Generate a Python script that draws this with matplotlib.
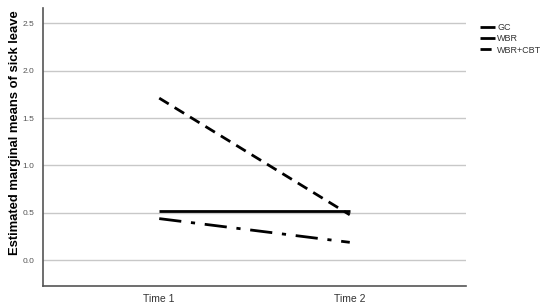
import numpy as np
import matplotlib.pyplot as plt

plt.rcParams['font.family'] = ['Liberation Sans', 'DejaVu Sans']

times = ['Time 1', 'Time 2']
gc = [0.52, 0.52]
wbr = [0.44, 0.19]
wbr_cbt = [1.71, 0.48]
yticks = [0.0, 0.5, 1.0, 1.5, 2.0, 2.5]


def main():
    fig = plt.figure(figsize=(5.5, 3.08), dpi=100)
    ax = fig.add_axes([43/550, 1-285.5/308, (466-43)/550, (285.5-8)/308])
    x = np.arange(len(times))

    ax.plot(x, gc, color='black', lw=2, solid_capstyle='butt', label='GC')
    ax.plot(x, wbr, color='black', lw=2, dashes=(8, 3.5, 1.5, 3.5), label='WBR')
    ax.plot(x, wbr_cbt, color='black', lw=2, dashes=(4, 2.5), label='WBR+CBT')

    ax.set_xlim(-0.61, 1.61)
    ax.set_ylim(-0.265, 2.66)
    ax.set_xticks(x)
    ax.set_xticklabels(times, fontsize=7.5, color='#333333')
    ax.set_yticks(yticks)
    ax.set_yticklabels(['%.1f' % v for v in yticks], fontsize=6, color='#555555')
    ax.tick_params(length=0, pad=6)
    ax.yaxis.grid(True, color='#c8c8c8', lw=1)
    ax.set_axisbelow(True)
    for s in ['top', 'right']:
        ax.spines[s].set_visible(False)
    for s in ['left', 'bottom']:
        ax.spines[s].set_color('#555555')
        ax.spines[s].set_linewidth(1.2)
    ax.set_ylabel('Estimated marginal means of sick leave', fontsize=9.4,
                  fontweight='bold')
    ax.yaxis.set_label_coords(-0.052, 0.55)

    leg = fig.legend(loc='upper left', bbox_to_anchor=(472/550, 1-15/308),
                     frameon=False, fontsize=6.5, handlelength=1.6,
                     handletextpad=0.3, labelspacing=0.25)
    for t in leg.get_texts():
        t.set_color('#333333')

    fig.savefig('out.png', dpi=100)


if __name__ == "__main__":
    main()
